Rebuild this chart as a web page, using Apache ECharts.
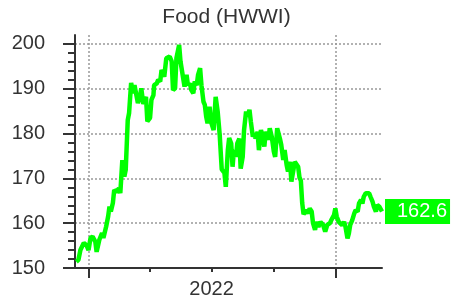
<!DOCTYPE html>
<html>
<head>
<meta charset="utf-8">
<script src="https://cdn.jsdelivr.net/npm/echarts@6/dist/echarts.min.js"></script>
<style>
  html, body { margin: 0; padding: 0; background: #fff; }
  #chart { width: 453px; height: 299px; }
</style>
</head>
<body>
<div id="chart"></div>
<script>
// HWWI food index
var dates = [
    '2021-12-13', '2021-12-16', '2021-12-19', '2021-12-24', '2021-12-28', '2021-12-31',
    '2022-01-03', '2022-01-06', '2022-01-10', '2022-01-12', '2022-01-16', '2022-01-20',
    '2022-01-22', '2022-01-26', '2022-01-29', '2022-01-31', '2022-02-02', '2022-02-05',
    '2022-02-07', '2022-02-10', '2022-02-14', '2022-02-16', '2022-02-19', '2022-02-22',
    '2022-02-24', '2022-02-27', '2022-03-01', '2022-03-04', '2022-03-07', '2022-03-09',
    '2022-03-14', '2022-03-17', '2022-03-19', '2022-03-22', '2022-03-26', '2022-03-28',
    '2022-04-01', '2022-04-03', '2022-04-06', '2022-04-07', '2022-04-11', '2022-04-13',
    '2022-04-16', '2022-04-18', '2022-04-22', '2022-04-25', '2022-04-30', '2022-05-03',
    '2022-05-05', '2022-05-08', '2022-05-10', '2022-05-14', '2022-05-16', '2022-05-20',
    '2022-05-22', '2022-05-25', '2022-05-27', '2022-05-30', '2022-06-01', '2022-06-04',
    '2022-06-06', '2022-06-09', '2022-06-11', '2022-06-14', '2022-06-16', '2022-06-19',
    '2022-06-21', '2022-06-23', '2022-06-25', '2022-06-28', '2022-06-30', '2022-07-04',
    '2022-07-07', '2022-07-10', '2022-07-13', '2022-07-16', '2022-07-20', '2022-07-22',
    '2022-07-25', '2022-07-27', '2022-07-30', '2022-08-01', '2022-08-03', '2022-08-06',
    '2022-08-08', '2022-08-11', '2022-08-13', '2022-08-16', '2022-08-18', '2022-08-21',
    '2022-08-23', '2022-08-26', '2022-08-28', '2022-08-31', '2022-09-02', '2022-09-04',
    '2022-09-07', '2022-09-09', '2022-09-12', '2022-09-14', '2022-09-17', '2022-09-19',
    '2022-09-23', '2022-09-25', '2022-09-28', '2022-10-01', '2022-10-03', '2022-10-06',
    '2022-10-10', '2022-10-12', '2022-10-15', '2022-10-17', '2022-10-20', '2022-10-22',
    '2022-10-25', '2022-10-27', '2022-10-30', '2022-11-01', '2022-11-03', '2022-11-06',
    '2022-11-08', '2022-11-10', '2022-11-12', '2022-11-14', '2022-11-18', '2022-11-21',
    '2022-11-23', '2022-11-26', '2022-11-28', '2022-12-01', '2022-12-03', '2022-12-06',
    '2022-12-09', '2022-12-13', '2022-12-16', '2022-12-19', '2022-12-23', '2022-12-25',
    '2022-12-29', '2022-12-31', '2023-01-02', '2023-01-05', '2023-01-07', '2023-01-10',
    '2023-01-13', '2023-01-15', '2023-01-18', '2023-01-20', '2023-01-22', '2023-01-25',
    '2023-01-28', '2023-01-30', '2023-02-02', '2023-02-04', '2023-02-07', '2023-02-09',
    '2023-02-11', '2023-02-14', '2023-02-16', '2023-02-19', '2023-02-21', '2023-02-24',
    '2023-02-26', '2023-03-01', '2023-03-03', '2023-03-06', '2023-03-08', '2023-03-10'
];
var values = [
    151.4, 151.8, 154.0, 155.6, 155.1, 154.0,
    156.7, 157.0, 155.9, 153.6, 156.3, 157.8,
    156.7, 159.2, 161.5, 163.7, 162.6, 164.5,
    167.4, 167.0, 167.8, 166.7, 174.1, 170.4,
    171.9, 183.0, 184.6, 191.3, 189.0, 190.8,
    186.8, 188.2, 190.1, 186.6, 188.2, 182.7,
    183.5, 187.5, 188.6, 190.8, 191.2, 192.0,
    191.6, 194.2, 192.7, 196.8, 197.2, 196.1,
    189.7, 190.1, 196.8, 199.8, 196.1, 192.3,
    190.5, 193.1, 190.8, 191.2, 189.7, 189.0,
    191.6, 190.8, 193.1, 194.6, 190.8, 187.1,
    186.4, 183.8, 182.3, 186.0, 182.7, 180.8,
    188.2, 184.9, 179.7, 172.0, 171.2, 168.1,
    176.3, 179.0, 177.8, 172.6, 176.3, 174.8,
    177.8, 178.9, 172.2, 174.8, 180.8, 184.9,
    183.8, 185.3, 182.7, 179.3, 180.1, 178.9,
    180.4, 176.3, 180.8, 179.7, 177.1, 180.4,
    178.6, 181.2, 179.3, 176.0, 174.8, 181.2,
    178.9, 177.5, 174.1, 176.3, 173.0, 171.5,
    173.7, 169.3, 171.9, 173.7, 174.1, 172.6,
    170.2, 169.5, 164.5, 162.0, 162.9, 162.2,
    163.3, 162.6, 160.0, 158.5, 160.3, 159.2,
    160.3, 159.6, 158.1, 159.6, 160.0, 160.7,
    161.8, 163.3, 161.5, 160.3, 160.7, 159.6,
    160.3, 159.2, 156.6, 157.7, 159.6, 160.7,
    162.2, 162.9, 162.6, 164.4, 165.2, 164.4,
    165.9, 166.7, 167.0, 166.7, 165.9, 164.8,
    163.7, 162.6, 164.1, 163.7, 163.3, 162.6
];

var xMin = '2021-12-11', xMax = '2023-03-10';
var yearTicks = ['2022-01-01', '2023-01-01'];
var quarterTicks = ['2022-01-01', '2022-04-01', '2022-07-01', '2022-10-01', '2023-01-01'];
var yearLabelAt = ['2022-07-01'];
var yearLabelText = '2022';
var yTicks = [150, 160, 170, 180, 190, 200];
var yMinorTicks = [];
for (var v = 150; v <= 200; v += 2) yMinorTicks.push(v);

var axisColor = '#333';
var gridColor = '#999';
var lineColor = '#00ff00';
var font = 'Liberation Sans, Arial, sans-serif';

function ts(d) { return Date.parse(d + 'T00:00:00Z'); }

var chart = echarts.init(document.getElementById('chart'));
chart.setOption({
    animation: false,
    title: {
        text: 'Food (HWWI)',
        left: 'center',
        top: 2,
        textStyle: { fontFamily: font, fontSize: 21, fontWeight: 'normal', color: axisColor }
    },
    grid: { left: 75, right: 71, top: 35, bottom: 31, containLabel: false },
    xAxis: [
        {
            type: 'value', min: ts(xMin), max: ts(xMax), position: 'bottom',
            axisLine: { lineStyle: { color: axisColor, width: 2 } },
            axisTick: { show: true, customValues: quarterTicks.map(ts), length: 4, lineStyle: { color: axisColor, width: 2 } },
            axisLabel: {
                show: true, customValues: yearLabelAt.map(ts), margin: 11,
                formatter: function () { return yearLabelText; },
                fontFamily: font, fontSize: 20, color: axisColor
            },
            splitLine: { show: false }
        },
        {
            type: 'value', min: ts(xMin), max: ts(xMax), position: 'bottom', offset: 0,
            axisLine: { show: false },
            axisTick: { show: true, customValues: yearTicks.map(ts), length: 10, lineStyle: { color: axisColor, width: 2 } },
            axisLabel: { show: false },
            splitLine: { show: true, lineStyle: { color: gridColor, width: 1.5, type: [2, 2] } }
        }
    ],
    yAxis: [
        {
            type: 'value', min: 150, max: 202, position: 'left',
            axisLine: { show: true, lineStyle: { color: axisColor, width: 2 } },
            axisTick: { show: true, customValues: yMinorTicks, length: 7, lineStyle: { color: axisColor, width: 2 } },
            axisLabel: { show: false },
            splitLine: { show: false }
        },
        {
            type: 'value', min: 150, max: 202, position: 'left', offset: 0,
            axisLine: { show: false },
            axisTick: { show: true, customValues: yTicks, length: 12, lineStyle: { color: axisColor, width: 2 } },
            axisLabel: {
                show: true, customValues: yTicks, margin: 30,
                fontFamily: font, fontSize: 20, color: axisColor
            },
            splitLine: { show: true, lineStyle: { color: gridColor, width: 1.5, type: [2, 2] } }
        }
    ],
    series: [
        {
            type: 'line',
            xAxisIndex: 0,
            yAxisIndex: 0,
            data: dates.map(function (d, i) { return [ts(d), values[i]]; }),
            showSymbol: false,
            lineStyle: { color: lineColor, width: 4.5 },
            endLabel: {
                show: true,
                distance: 3,
                formatter: function (p) { return p.value[1].toFixed(1); },
                backgroundColor: lineColor,
                color: '#fff',
                fontFamily: font,
                fontSize: 20,
                lineHeight: 20,
                padding: [3, 3, 2, 12]
            }
        }
    ]
});
</script>
</body>
</html>
